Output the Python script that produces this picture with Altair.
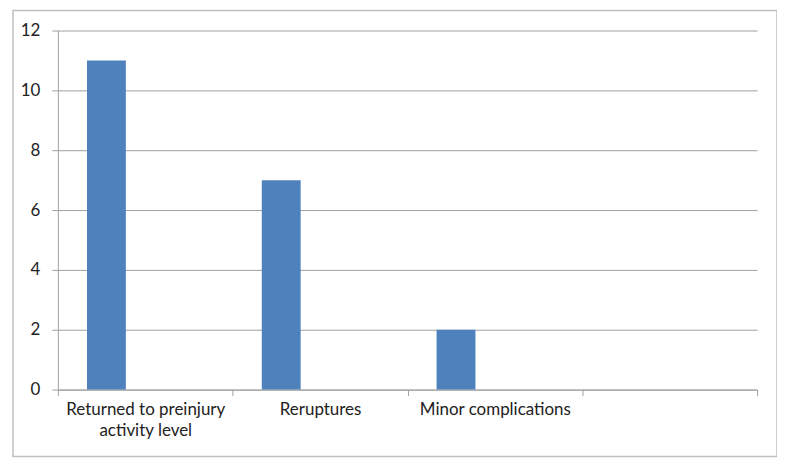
import altair as alt
import pandas as pd

categories = ["Returned to preinjury activity level", "Reruptures", "Minor complications", ""]
values = [11, 7, 2]
series = ["A", "B", "C"]

df = pd.DataFrame({"cat": categories[:3], "val": values, "s": ["A"] * 3})

grey = "#a0a0a0"

bars = alt.Chart(df).mark_bar(color="#4F81BD").encode(
    x=alt.X("cat:N", scale=alt.Scale(domain=categories, paddingInner=0, paddingOuter=0),
            sort=categories,
            axis=alt.Axis(title=None, labelAngle=0, tickBand="extent", grid=False,
                          domainColor=grey, tickColor=grey, tickSize=6,
                          labelFont="Lato", labelFontSize=17, labelColor="#222222",
                          labelPadding=6, labelLineHeight=21, labelLimit=300,
                          labelExpr="datum.value == 'Returned to preinjury activity level' ? ['Returned to preinjury', 'activity level'] : datum.label")),
    xOffset=alt.XOffset("s:N", scale=alt.Scale(domain=series, paddingInner=0, paddingOuter=0.75)),
    y=alt.Y("val:Q", scale=alt.Scale(domain=[0, 12], nice=False),
            axis=alt.Axis(title=None, values=[0, 2, 4, 6, 8, 10, 12], grid=True,
                          gridColor=grey, gridWidth=1, domainColor=grey, tickColor=grey,
                          tickSize=6, labelPadding=12, labelFont="Lato", labelFontSize=17,
                          labelColor="#222222")),
)

border = alt.Chart(pd.DataFrame({"k": [0]})).mark_rect(fill=None, stroke="#bfbfbf", strokeWidth=1.5, clip=False).encode(
    x=alt.value(-45), x2=alt.value(721), y=alt.value(-20), y2=alt.value(427)
)

chart = alt.layer(border, bars).properties(
    width=701, height=360,
    autosize=alt.AutoSizeParams(type="none"),
    padding={"left": 50, "top": 22, "right": 20, "bottom": 70},
).configure_view(stroke=None)

chart.save("out.html", embed_options={"renderer": "svg", "actions": False})
